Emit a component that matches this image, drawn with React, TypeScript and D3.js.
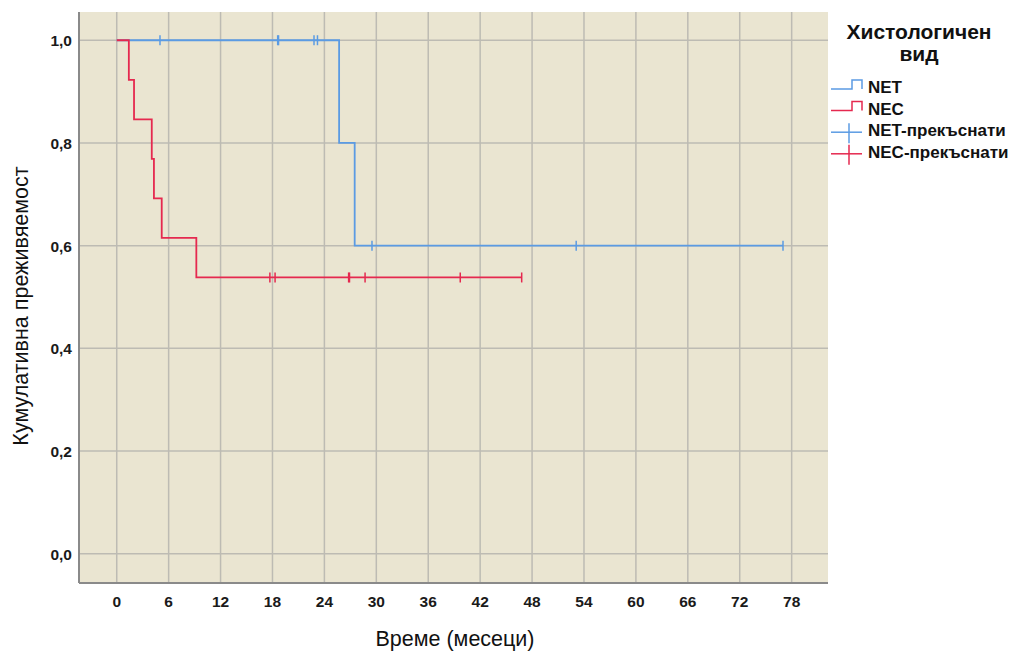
import * as d3 from 'd3'

// Kaplan-Meier steps
const netTimes = [0, 25.7, 27.5]
const netSurv = [1, 0.8, 0.6]
const netEnd = 77.0
const netCensored = [5.0, 18.6, 18.7, 22.8, 23.2, 29.5, 53.1, 77.0]

const necTimes = [0, 1.4, 2.0, 4.05, 4.3, 5.2, 9.2]
const necSurv = [1, 0.923, 0.846, 0.769, 0.692, 0.615, 0.538]
const necEnd = 46.8
const necCensored = [17.7, 18.3, 26.8, 26.9, 28.7, 39.7, 46.8]

const xTicks = [0, 6, 12, 18, 24, 30, 36, 42, 48, 54, 60, 66, 72, 78]
const yTicks = [0, 0.2, 0.4, 0.6, 0.8, 1.0]

const legendTitle = ['Хистологичен', 'вид']
const legendLabels = ['NET', 'NEC', 'NET-прекъснати', 'NEC-прекъснати']

const BLUE = '#5b9be3'
const RED = '#e5294f'
const FONT = '"Liberation Sans", Arial, sans-serif'

function stepPoints(times: number[], surv: number[], end: number) {
  const pts: [number, number][] = []
  times.forEach((t, i) => {
    if (i > 0) pts.push([t, surv[i - 1]])
    pts.push([t, surv[i]])
  })
  pts.push([end, surv[surv.length - 1]])
  return pts
}

function survAt(times: number[], surv: number[], t: number) {
  const i = d3.bisectRight(times, t) - 1
  return surv[Math.max(0, i)]
}

export default function App() {
  const width = 1009
  const height = 651
  const left = 79
  const right = 828
  const top = 12
  const bottom = 583

  const x = d3.scaleLinear([-4.36, 82.2], [left, right])
  const y = d3.scaleLinear([-0.057, 1.055], [bottom, top])
  const line = d3
    .line<[number, number]>()
    .x((d) => x(d[0]))
    .y((d) => y(d[1]))

  const series = [
    { times: netTimes, surv: netSurv, end: netEnd, cens: netCensored, color: BLUE },
    { times: necTimes, surv: necSurv, end: necEnd, cens: necCensored, color: RED },
  ]

  return (
    <svg
      width={width}
      height={height}
      style={{ position: 'absolute', left: 0, top: 0 }}
      fontFamily={FONT}
    >
      <rect x={0} y={0} width={width} height={height} fill="white" />
      <rect x={left} y={top} width={right - left} height={bottom - top} fill="#eae5d1" />
      {xTicks.map((t) => (
        <line key={'gx' + t} x1={x(t)} x2={x(t)} y1={top} y2={bottom} stroke="#bdbbb3" strokeWidth={1.5} />
      ))}
      {yTicks.map((t) => (
        <line key={'gy' + t} x1={left} x2={right} y1={y(t)} y2={y(t)} stroke="#bdbbb3" strokeWidth={1.5} />
      ))}
      <line x1={left} x2={left} y1={top} y2={bottom} stroke="#8a8a8a" strokeWidth={2} />
      <line x1={left} x2={right} y1={bottom} y2={bottom} stroke="#8a8a8a" strokeWidth={2} />

      {series.map((s, i) => (
        <g key={i}>
          <path
            d={line(stepPoints(s.times, s.surv, s.end)) || undefined}
            fill="none"
            stroke={s.color}
            strokeWidth={1.8}
          />
          {s.cens.map((c, j) => {
            const cy = y(survAt(s.times, s.surv, c))
            return (
              <line key={j} x1={x(c)} x2={x(c)} y1={cy - 5} y2={cy + 5} stroke={s.color} strokeWidth={1.5} />
            )
          })}
        </g>
      ))}

      {xTicks.map((t) => (
        <text key={'tx' + t} x={x(t)} y={607} textAnchor="middle" fontSize={15.5} fontWeight="bold" fill="#1a1a1a">
          {t}
        </text>
      ))}
      {yTicks.map((t) => (
        <text key={'ty' + t} x={72} y={y(t) + 6} textAnchor="end" fontSize={15.5} fontWeight="bold" fill="#1a1a1a">
          {d3.format('.1f')(t).replace('.', ',')}
        </text>
      ))}

      <text x={455} y={646} textAnchor="middle" fontSize={21.5} fill="#111">
        Време (месеци)
      </text>
      <text
        transform={`translate(28, 306) rotate(-90)`}
        textAnchor="middle"
        fontSize={21.5}
        fill="#111"
      >
        Кумулативна преживяемост
      </text>

      {legendTitle.map((t, i) => (
        <text key={t} x={919} y={39 + i * 22} textAnchor="middle" fontSize={21} fontWeight="bold" fill="#111">
          {t}
        </text>
      ))}
      {legendLabels.map((lab, i) => {
        const ly = 93 + i * 21.6
        const color = i % 2 === 0 ? BLUE : RED
        const sym =
          i < 2 ? (
            <path
              d={`M831,${ly - 4}H852V${ly - 13}H862V${ly - 4}`}
              fill="none"
              stroke={color}
              strokeWidth={1.5}
            />
          ) : (
            <g stroke={color} strokeWidth={1.5}>
              <line x1={831} x2={862} y1={ly - 4} y2={ly - 4} />
              <line x1={849} x2={849} y1={ly - 13} y2={ly + 7} />
            </g>
          )
        return (
          <g key={lab}>
            {sym}
            <text x={868} y={ly} fontSize={17} fontWeight="bold" fill="#111">
              {lab}
            </text>
          </g>
        )
      })}
    </svg>
  )
}
